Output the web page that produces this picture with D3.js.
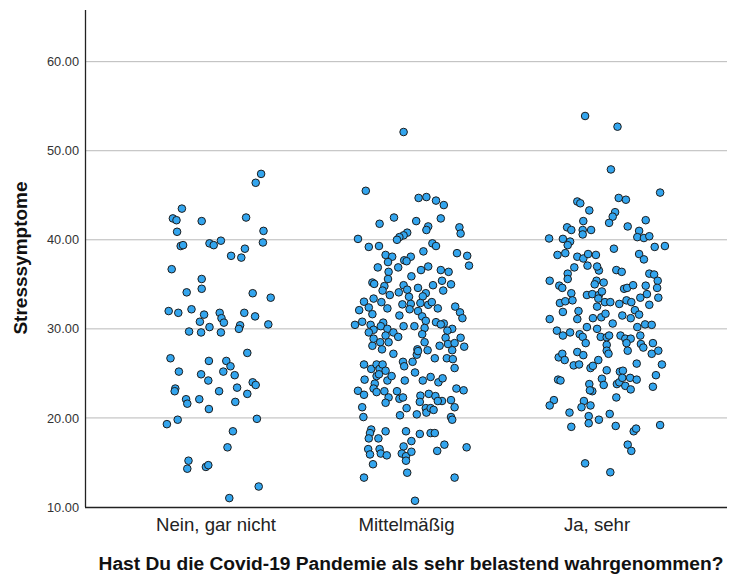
<!DOCTYPE html>
<html>
<head>
<meta charset="utf-8">
<script src="https://cdn.jsdelivr.net/npm/d3@7"></script>
<style>
  body { margin: 0; background: #fff; }
  text { font-family: "Liberation Sans", Arial, sans-serif; }
</style>
</head>
<body>
<div id="chart"></div>
<script>
// categories of the x axis
var categories = ["Nein, gar nicht", "Mittelmäßig", "Ja, sehr"];
var yTicks = [10, 20, 30, 40, 50, 60];

// [jitter, Stresssymptome] ; jitter is -1..1 within the category
var gruppeNein = [
  [0.76,47.4],[0.67,46.4],[-0.56,43.5],[-0.71,42.4],[-0.65,42.2],[-0.23,42.1],[0.51,42.5],[-0.64,40.9],
  [0.80,41.0],[-0.58,39.3],[-0.54,39.4],[-0.10,39.6],[-0.03,39.4],[0.09,39.9],[0.79,39.7],[0.49,39.0],
  [0.26,38.2],[0.43,38.0],[-0.73,36.7],[-0.23,35.6],[-0.23,34.5],[-0.48,34.1],[0.62,34.0],[0.92,33.5],
  [-0.78,32.0],[-0.62,31.8],[-0.40,32.2],[-0.19,31.6],[0.07,31.8],[0.10,31.2],[0.14,30.7],[-0.26,30.8],
  [0.48,31.8],[0.66,31.4],[0.41,30.4],[0.39,30.0],[0.88,30.5],[-0.44,29.7],[-0.24,29.6],[-0.10,30.2],
  [0.09,29.6],[0.53,27.3],[-0.75,26.7],[-0.11,26.4],[0.18,26.4],[0.25,25.8],[-0.61,25.2],[-0.24,24.9],
  [0.13,25.2],[0.32,24.8],[-0.12,24.2],[-0.67,23.3],[-0.68,23.0],[0.36,23.4],[0.62,24.0],[0.67,23.7],
  [0.53,22.7],[0.06,23.0],[-0.49,22.1],[-0.47,21.6],[-0.27,22.1],[0.33,21.8],[-0.11,21.0],[-0.63,19.8],
  [-0.81,19.3],[0.69,19.9],[0.29,18.5],[0.20,16.7],[-0.45,15.2],[-0.47,14.3],[-0.16,14.5],[-0.12,14.7],
  [0.72,12.3],[0.23,11.0]
];

var gruppeMittel = [
  [-0.04,52.1],[-0.67,45.5],[0.21,44.7],[0.34,44.8],[0.50,44.4],[0.63,43.9],[-0.20,42.5],[-0.44,41.8],
  [0.17,42.1],[0.58,42.4],[0.37,41.5],[0.34,41.1],[0.89,41.4],[0.91,40.7],[-0.80,40.1],[0.02,40.8],
  [-0.04,40.5],[-0.11,40.3],[-0.15,40.0],[-0.62,39.2],[-0.45,39.3],[0.44,39.6],[0.50,39.3],[-0.34,38.3],
  [-0.23,38.1],[0.08,38.1],[-0.03,37.7],[0.29,38.7],[0.85,38.5],[1.02,38.2],[1.05,37.1],[-0.30,37.5],
  [-0.47,36.9],[-0.13,36.9],[0.01,37.6],[0.37,37.0],[0.25,36.6],[0.58,36.6],[0.71,36.4],[-0.29,36.4],
  [-0.30,35.6],[0.09,35.9],[-0.56,35.2],[-0.53,35.05],[-0.36,34.8],[-0.04,34.9],[0.20,34.6],[0.45,34.9],
  [0.60,35.4],[0.75,35.0],[0.62,34.3],[-0.39,34.3],[-0.27,33.8],[-0.12,34.1],[0.02,34.4],[0.33,34.0],
  [0.05,33.6],[0.28,33.65],[-0.70,33.05],[-0.54,33.4],[-0.41,33.0],[-0.06,32.75],[0.24,32.9],[0.37,32.7],
  [0.43,33.0],[0.08,32.8],[-0.78,32.1],[-0.62,32.4],[-0.31,32.3],[0.06,32.2],[0.20,32.0],[0.53,32.3],
  [0.82,32.5],[0.90,31.85],[0.94,31.2],[-0.56,31.65],[-0.11,31.5],[0.27,31.4],[-0.85,30.45],[-0.73,30.8],
  [-0.59,30.45],[-0.38,30.7],[-0.42,30.3],[-0.04,30.3],[0.14,30.3],[0.33,30.9],[0.50,30.75],[0.63,30.6],
  [0.77,30.0],
  [-0.54,29.9],[-0.31,30.0],[0.31,30.1],[0.58,30.5],[-0.62,29.6],[-0.34,29.25],[-0.21,29.6],[-0.13,29.1],
  [0.27,29.4],[0.69,29.8],[-0.56,28.1],[-0.54,28.9],[-0.43,28.5],[-0.40,27.7],[-0.29,28.5],[-0.21,27.2],
  [0.19,27.7],[0.31,28.5],[0.36,27.6],[0.56,28.1],[0.66,29.0],[0.70,28.3],[0.81,28.4],[0.91,29.0],
  [0.97,28.0],[0.77,27.6],[-0.70,26.0],[-0.58,25.5],[-0.49,26.0],[-0.44,25.5],[-0.39,26.0],[-0.34,25.3],
  [-0.05,26.3],[-0.03,25.8],[0.11,26.3],[0.18,27.1],[0.20,27.5],[0.48,26.7],[0.68,26.7],[0.78,26.6],
  [0.81,25.6],[-0.69,24.3],[-0.52,23.85],[-0.49,24.7],[-0.45,24.9],[-0.31,24.2],[-0.24,24.7],[-0.02,24.2],
  [0.15,25.1],[0.28,24.2],[0.41,24.6],[0.54,24.0],[0.61,24.45],[-0.80,23.05],[-0.70,22.6],[-0.54,23.3],
  [-0.49,22.9],[-0.36,23.0],[-0.29,22.3],[-0.15,23.0],[-0.11,22.15],[-0.05,22.3],[0.24,22.5],[0.38,22.7],
  [0.49,22.45],[0.60,21.9],[0.75,22.0],[0.84,23.3],[0.96,23.1],[-0.73,21.2],[-0.71,20.1],[-0.34,21.7],
  [-0.10,20.3],[0.01,21.1],[0.18,20.4],[0.23,21.8],[0.33,21.1],[0.34,20.6],[0.41,21.1],[0.46,20.9],
  [0.53,21.9],[0.81,21.2],[0.75,20.1],[0.77,19.8],[-0.58,18.7],[-0.60,18.3],[-0.62,17.7],[-0.46,17.7],
  [-0.34,18.5],[0.00,18.5],[0.09,17.4],[0.23,18.2],[0.41,18.3],[0.48,18.3],[-0.63,16.5],[-0.60,15.9],
  [-0.44,16.5],[-0.42,16.0],[-0.32,15.8],[-0.04,16.8],[-0.07,16.0],[0.00,15.7],[0.09,16.2],[0.52,16.3],
  [0.64,17.0],[1.01,16.7],[-0.55,14.8],[0.00,15.2],[0.02,13.85],[-0.70,13.3],[0.81,13.3],[0.15,10.7]
];

var gruppeJa = [
  [-0.19,53.9],[0.35,52.7],[0.24,47.9],[1.06,45.3],[-0.32,44.3],[-0.27,44.1],[0.37,44.7],[0.49,44.5],
  [-0.12,43.3],[0.31,43.1],[0.27,42.6],[0.21,41.9],[0.82,42.2],[-0.22,42.1],[-0.49,41.4],[-0.42,41.1],
  [-0.23,41.1],[-0.09,41.1],[-0.23,40.6],[0.52,41.5],[0.71,41.0],[-0.79,40.15],[-0.56,40.1],[-0.44,39.8],
  [-0.48,39.4],[0.68,40.3],[0.79,40.2],[0.88,40.4],[0.29,39.0],[0.97,39.2],[1.14,39.3],[-0.65,38.3],
  [-0.52,38.5],[-0.32,38.1],[-0.22,37.9],[-0.14,38.4],[-0.01,38.3],[-0.15,37.1],[0.71,38.4],[0.79,37.8],
  [-0.37,36.9],[0.04,36.55],[0.01,37.0],[0.33,36.6],[0.42,36.4],[-0.48,36.2],[-0.78,35.4],[-0.48,35.6],
  [0.88,36.2],[0.96,36.1],[1.02,35.4],[-0.62,34.85],[-0.57,34.6],[0.00,35.4],[0.12,35.2],[-0.03,35.0],
  [0.46,34.5],[0.51,34.6],[0.61,34.9],[0.82,34.85],[1.01,34.6],[-0.42,34.0],[-0.16,33.8],[-0.07,33.9],
  [0.04,33.8],[0.09,34.2],[0.84,33.9],[0.73,33.5],[1.03,33.5],[-0.61,32.9],[-0.52,33.1],[-0.40,33.2],
  [-0.56,31.9],[0.03,33.4],[0.14,33.0],[0.23,33.0],[0.38,32.8],[0.50,33.2],[0.58,33.0],[0.88,32.7],
  [0.01,32.5],[-0.30,32.0],[0.64,32.1],[0.71,31.6],[-0.78,31.1],[-0.32,31.1],[-0.06,31.2],[0.08,31.3],
  [0.15,31.7],[0.43,31.5],[0.57,31.2],
  [-0.66,29.8],[-0.56,29.25],[-0.44,29.6],[-0.28,29.4],[-0.23,29.1],[-0.16,30.2],[0.01,30.0],[0.07,29.1],
  [0.17,29.05],[0.21,29.25],[0.27,30.6],[0.40,29.25],[0.48,28.9],[0.57,28.9],[0.68,30.2],[0.73,29.25],
  [0.81,30.5],[0.92,30.45],[-0.18,28.4],[0.17,28.2],[0.50,28.4],[0.74,28.3],[0.78,27.9],[0.94,28.4],
  [0.52,27.55],[-0.63,26.8],[-0.57,27.2],[-0.53,26.5],[-0.32,27.4],[-0.22,27.05],[0.17,27.55],[0.20,27.2],
  [0.92,27.2],[1.03,27.55],[-0.38,25.9],[-0.29,26.0],[-0.10,25.6],[-0.06,25.85],[0.03,26.5],[0.67,26.1],
  [1.09,26.0],[-0.64,24.3],[-0.60,24.2],[0.17,25.35],[0.39,25.2],[0.44,25.3],[0.09,24.4],[0.12,23.7],
  [-0.12,23.8],[-0.07,23.0],[-0.11,23.1],[0.34,23.8],[0.38,24.0],[0.43,24.5],[0.48,23.6],[0.56,24.5],
  [0.67,24.3],[0.57,23.2],[0.94,23.5],[0.99,24.8],[0.33,22.3],[-0.71,22.0],[-0.78,21.4],[-0.21,21.9],
  [-0.25,21.2],[-0.10,21.4],[-0.45,20.6],[-0.13,20.2],[-0.13,19.4],[0.04,19.8],[0.22,20.45],[-0.42,19.0],
  [0.32,19.1],[0.62,18.5],[0.66,18.8],[1.06,19.2],[0.52,17.0],[0.58,16.3],[-0.19,14.9],[0.23,13.9]
];

var groups = [gruppeNein, gruppeMittel, gruppeJa];

var width = 731, height = 576;
var margin = { top: 10, right: 4, bottom: 69, left: 85 };

var svg = d3.select("#chart").append("svg")
    .attr("width", width)
    .attr("height", height);

var x = d3.scalePoint()
    .domain(categories)
    .range([margin.left, width - margin.right])
    .padding(0.685);

var y = d3.scaleLinear()
    .domain([10, 65.8])
    .range([height - margin.bottom, margin.top]);

var jitter = d3.scaleLinear()
    .domain([-1, 1])
    .range([-x.step() * 0.315, x.step() * 0.315]);

// grid lines
svg.append("g")
    .selectAll("line")
    .data(yTicks.filter(d => d > 10))
    .enter().append("line")
    .attr("x1", margin.left)
    .attr("x2", width - margin.right)
    .attr("y1", d => y(d))
    .attr("y2", d => y(d))
    .attr("stroke", "#b9b9b9")
    .attr("stroke-width", 1);

// y axis
var yAxis = svg.append("g")
    .attr("transform", "translate(" + margin.left + ",0)")
    .call(d3.axisLeft(y).tickValues(yTicks).tickSize(0).tickPadding(6).tickFormat(d3.format(".2f")));
yAxis.select(".domain").remove();
yAxis.selectAll("text")
    .attr("font-size", "12.8px")
    .attr("fill", "#333");

// x axis
var xAxis = svg.append("g")
    .attr("transform", "translate(0," + (height - margin.bottom) + ")")
    .call(d3.axisBottom(x).tickSize(0).tickPadding(11));
xAxis.select(".domain").remove();
xAxis.selectAll("text")
    .attr("font-size", "18.6px")
    .attr("fill", "#222")
    .attr("dy", "0.71em");

// axis lines
svg.append("line")
    .attr("x1", margin.left + 0.5).attr("x2", margin.left + 0.5)
    .attr("y1", margin.top).attr("y2", height - margin.bottom)
    .attr("stroke", "#222").attr("stroke-width", 1.3);
svg.append("line")
    .attr("x1", margin.left).attr("x2", width - margin.right)
    .attr("y1", height - margin.bottom + 0.5).attr("y2", height - margin.bottom + 0.5)
    .attr("stroke", "#222").attr("stroke-width", 1.3);

// points
var dots = svg.append("g")
    .attr("fill", "#33a5ee")
    .attr("stroke", "#1c1c1c")
    .attr("stroke-width", 1);

groups.forEach(function (g, i) {
    dots.selectAll("circle.g" + i)
        .data(g)
        .enter().append("circle")
        .attr("class", "g" + i)
        .attr("cx", d => x(categories[i]) + jitter(d[0]))
        .attr("cy", d => y(d[1]))
        .attr("r", 3.8);
});

// titles
svg.append("text")
    .attr("x", (margin.left + width - margin.right) / 2 + 5)
    .attr("y", 570)
    .attr("text-anchor", "middle")
    .attr("font-size", "19.2px")
    .attr("font-weight", "bold")
    .attr("fill", "#111")
    .text("Hast Du die Covid-19 Pandemie als sehr belastend wahrgenommen?");

svg.append("text")
    .attr("transform", "translate(27," + 258 + ") rotate(-90)")
    .attr("text-anchor", "middle")
    .attr("font-size", "19px")
    .attr("font-weight", "bold")
    .attr("fill", "#111")
    .text("Stresssymptome");
</script>
</body>
</html>
